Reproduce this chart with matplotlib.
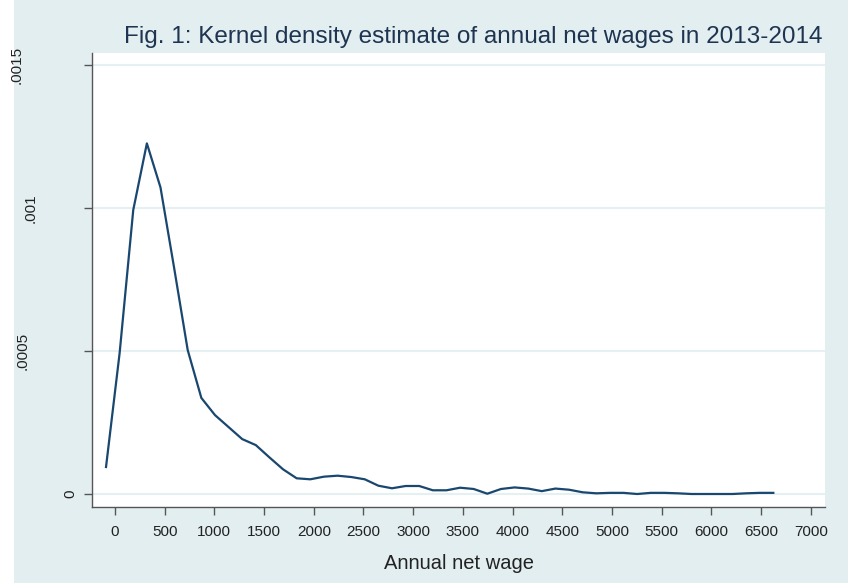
import matplotlib
matplotlib.use('Agg')
import matplotlib.pyplot as plt
from matplotlib.transforms import blended_transform_factory

# kdensity grid (annual net wage) and density values
wage = [-90, 47, 184, 321, 458, 595, 732, 869, 1006, 1143,
        1280, 1417, 1554, 1691, 1828, 1965, 2102, 2239, 2376, 2513,
        2650, 2787, 2924, 3061, 3198, 3335, 3472, 3609, 3746, 3883,
        4020, 4157, 4294, 4431, 4568, 4705, 4842, 4979, 5116, 5253,
        5390, 5527, 5664, 5801, 5938, 6075, 6212, 6349, 6486, 6623]
density = [0.0000944, 0.000493, 0.000993, 0.001226, 0.001072, 0.000791, 0.000503, 0.000336, 0.000276, 0.000234,
           0.000192, 0.000171, 0.000128, 0.0000863, 0.0000549, 0.0000514, 0.0000606, 0.000064, 0.0000594, 0.0000514,
           0.000029, 0.00002, 0.000028, 0.000028, 0.000013, 0.000013, 0.000022, 0.0000175, 0.000001, 0.0000175,
           0.000023, 0.000019, 0.00001, 0.000019, 0.000015, 0.000006, 0.0000024, 0.000004, 0.000004, 0.0,
           0.000004, 0.000004, 0.0000024, 0.0, 0.0, 0.0, 0.0, 0.0000024, 0.000004, 0.000004]

xticks = [0, 500, 1000, 1500, 2000, 2500, 3000, 3500, 4000, 4500, 5000, 5500, 6000, 6500, 7000]
yticks = [0, 0.0005, 0.001, 0.0015]
ytick_labels = ['0', '.0005', '.001', '.0015']
ylabel_x_px = [70, 23, 31, 17]  # Stata's odd placement of the rotated labels

title = 'Fig. 1: Kernel density estimate of annual net wages in 2013-2014'
xlabel = 'Annual net wage'

bg = '#e3eef1'
navy = '#1a476f'
plt.rcParams['font.family'] = ['Liberation Sans', 'DejaVu Sans']

fig = plt.figure(figsize=(8.48, 5.83), dpi=100, facecolor=bg)
# thin white strip on the left edge
fig.patches.append(plt.Rectangle((0, 0), 14 / 848, 1, transform=fig.transFigure,
                                 facecolor='white', edgecolor='none', zorder=-1))
ax = fig.add_axes([92 / 848, 1 - 506.7 / 583, (825 - 92) / 848, (506.7 - 53) / 583])
ax.set_facecolor('white')

ax.plot(wage, density, color=navy, lw=1.6, zorder=3)

ax.set_xlim(-231, 7143)
ax.set_ylim(-0.0000444, 0.001542)
ax.set_xticks(xticks)
ax.set_xticklabels([str(t) for t in xticks])
ax.set_yticks(yticks)
ax.set_yticklabels([])

for y in yticks:
    ax.axhline(y, color='#e6eff1', lw=1.5, zorder=1)

for s in ['top', 'right']:
    ax.spines[s].set_visible(False)
for s in ['left', 'bottom']:
    ax.spines[s].set_color('#555555')
    ax.spines[s].set_linewidth(1.0)

ax.tick_params(axis='both', direction='out', length=6, width=1.0, color='#555555',
               labelsize=11, labelcolor='#222222', pad=7)

tr = blended_transform_factory(fig.transFigure, ax.transData)
for y, lab, px in zip(yticks, ytick_labels, ylabel_x_px):
    ax.text(px / 848, y, lab, transform=tr, rotation=90, ha='center', va='center',
            fontsize=11, color='#222222')

ax.set_xlabel(xlabel, fontsize=14.5, color='#222222', labelpad=11)
fig.text(473 / 848, 1 - 37 / 583, title, ha='center', va='center', fontsize=17.5, color='#1e3450')

fig.savefig('out.png', dpi=100, facecolor=bg)
